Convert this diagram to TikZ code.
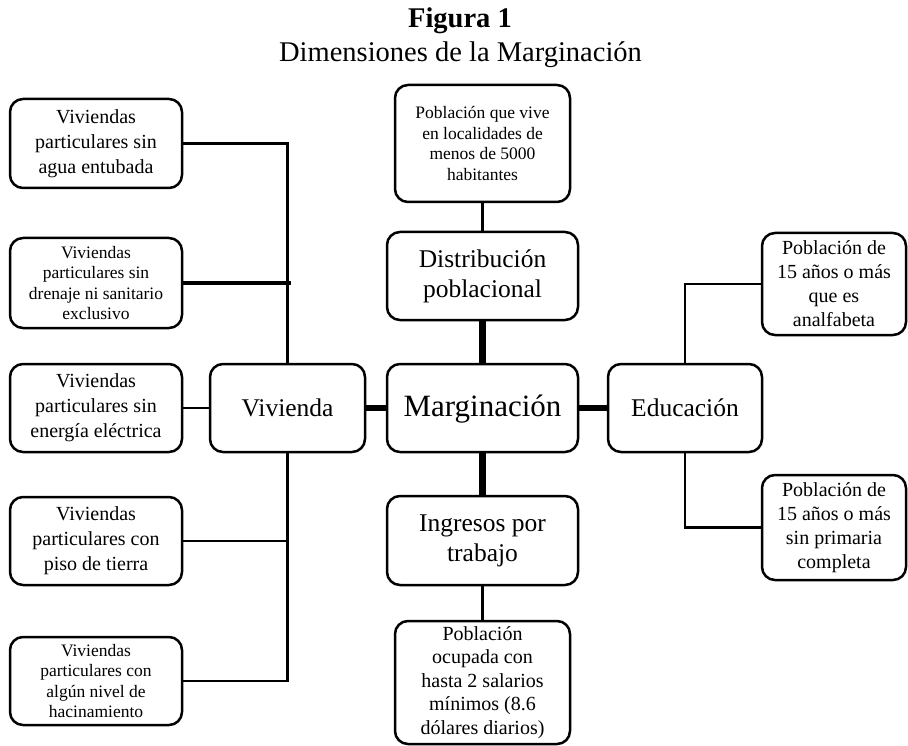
\documentclass[tikz,border=0pt]{standalone}
\usepackage{fontspec}
\setmainfont{Liberation Serif}
\begin{document}
\begin{tikzpicture}[x=1pt,y=-1pt,
  box/.style={draw,line width=2.5pt,rounded corners=13pt,align=center,inner sep=0pt},
  fA/.style={font=\fontsize{20}{25}\selectfont},
  fB/.style={font=\fontsize{17.5}{20.5}\selectfont},
  fC/.style={font=\fontsize{25.5}{30}\selectfont},
  thin/.style={line width=2.5pt},
  thick/.style={line width=6.5pt}]
\useasboundingbox (0,0) rectangle (908,746);
% title
\node[font=\fontsize{28.5}{32}\selectfont\bfseries,anchor=base,inner sep=0pt] (t1) at (460,28) {Figura 1};
\node[font=\fontsize{28.5}{32}\selectfont,anchor=base,inner sep=0pt] (t2) at (460.5,62) {Dimensiones de la Marginación};
% left column
\node[box,fA,minimum width=172pt,minimum height=89pt] (b1) at (96,143.5) {Viviendas\\particulares sin\\agua entubada};
\node[box,fB,minimum width=172pt,minimum height=90pt] (b2) at (96,283) {Viviendas\\particulares sin\\drenaje ni sanitario\\exclusivo};
\node[box,fA,minimum width=172pt,minimum height=88pt] (b3) at (96,408) {Viviendas\\particulares sin\\energía eléctrica};
\node[box,fA,minimum width=172pt,minimum height=88pt] (b4) at (96,541) {Viviendas\\particulares con\\piso de tierra};
\node[box,fB,minimum width=172pt,minimum height=88pt] (b5) at (96,681) {Viviendas\\particulares con\\algún nivel de\\hacinamiento};
% second column
\node[box,fC,minimum width=155pt,minimum height=88pt] (viv) at (287.5,408) {Vivienda};
% center column
\node[box,fB,minimum width=175pt,minimum height=117pt] (top) at (482.5,143.5) {Población que vive\\en localidades de\\menos de 5000\\habitantes};
\node[box,fC,minimum width=191pt,minimum height=88pt] (dist) at (482.5,276) {Distribución\\poblacional};
\node[box,font=\fontsize{31}{36}\selectfont,minimum width=191pt,minimum height=88pt,text depth=4pt] (marg) at (482.5,408) {Marginación};
\node[box,fC,minimum width=191pt,minimum height=89pt] (ingr) at (482.5,540.5) {Ingresos por\\trabajo};
\node[box,font=\fontsize{20}{23.5}\selectfont,minimum width=175pt,minimum height=123pt] (bot) at (482.5,682.5) {Población\\ocupada con\\hasta 2 salarios\\mínimos (8.6\\dólares diarios)};
% right
\node[box,fC,minimum width=154pt,minimum height=88pt] (educ) at (685,408) {Educación};
\node[box,font=\fontsize{20}{24}\selectfont,minimum width=144pt,minimum height=102pt] (analf) at (834,284) {Población de\\15 años o más\\que es\\analfabeta};
\node[box,font=\fontsize{20}{24}\selectfont,minimum width=144pt,minimum height=105pt] (prim) at (834,527.5) {Población de\\15 años o más\\sin primaria\\completa};
% connectors
\coordinate (b2end) at (291,283);
\draw[thin] (b1.east) -| (viv.north);
\draw[line width=3.5pt] (b2.east) -- (b2end);
\draw[thin] (b3.east) -- (viv.west);
\draw[thin] (b4.east) -- (b4.east -| viv.south);
\draw[thin] (b5.east) -| (viv.south);
\draw[thick] (viv.east) -- (marg.west);
\draw[thick] (marg.east) -- (educ.west);
\draw[thick] (dist.south) -- (marg.north);
\draw[thick] (marg.south) -- (ingr.north);
\draw[thin] (top.south) -- (dist.north);
\draw[thin] (ingr.south) -- (bot.north);
\draw[thin] (educ.north) |- (analf.west);
\draw[thin] (educ.south) |- (prim.west);
\end{tikzpicture}
\end{document}
